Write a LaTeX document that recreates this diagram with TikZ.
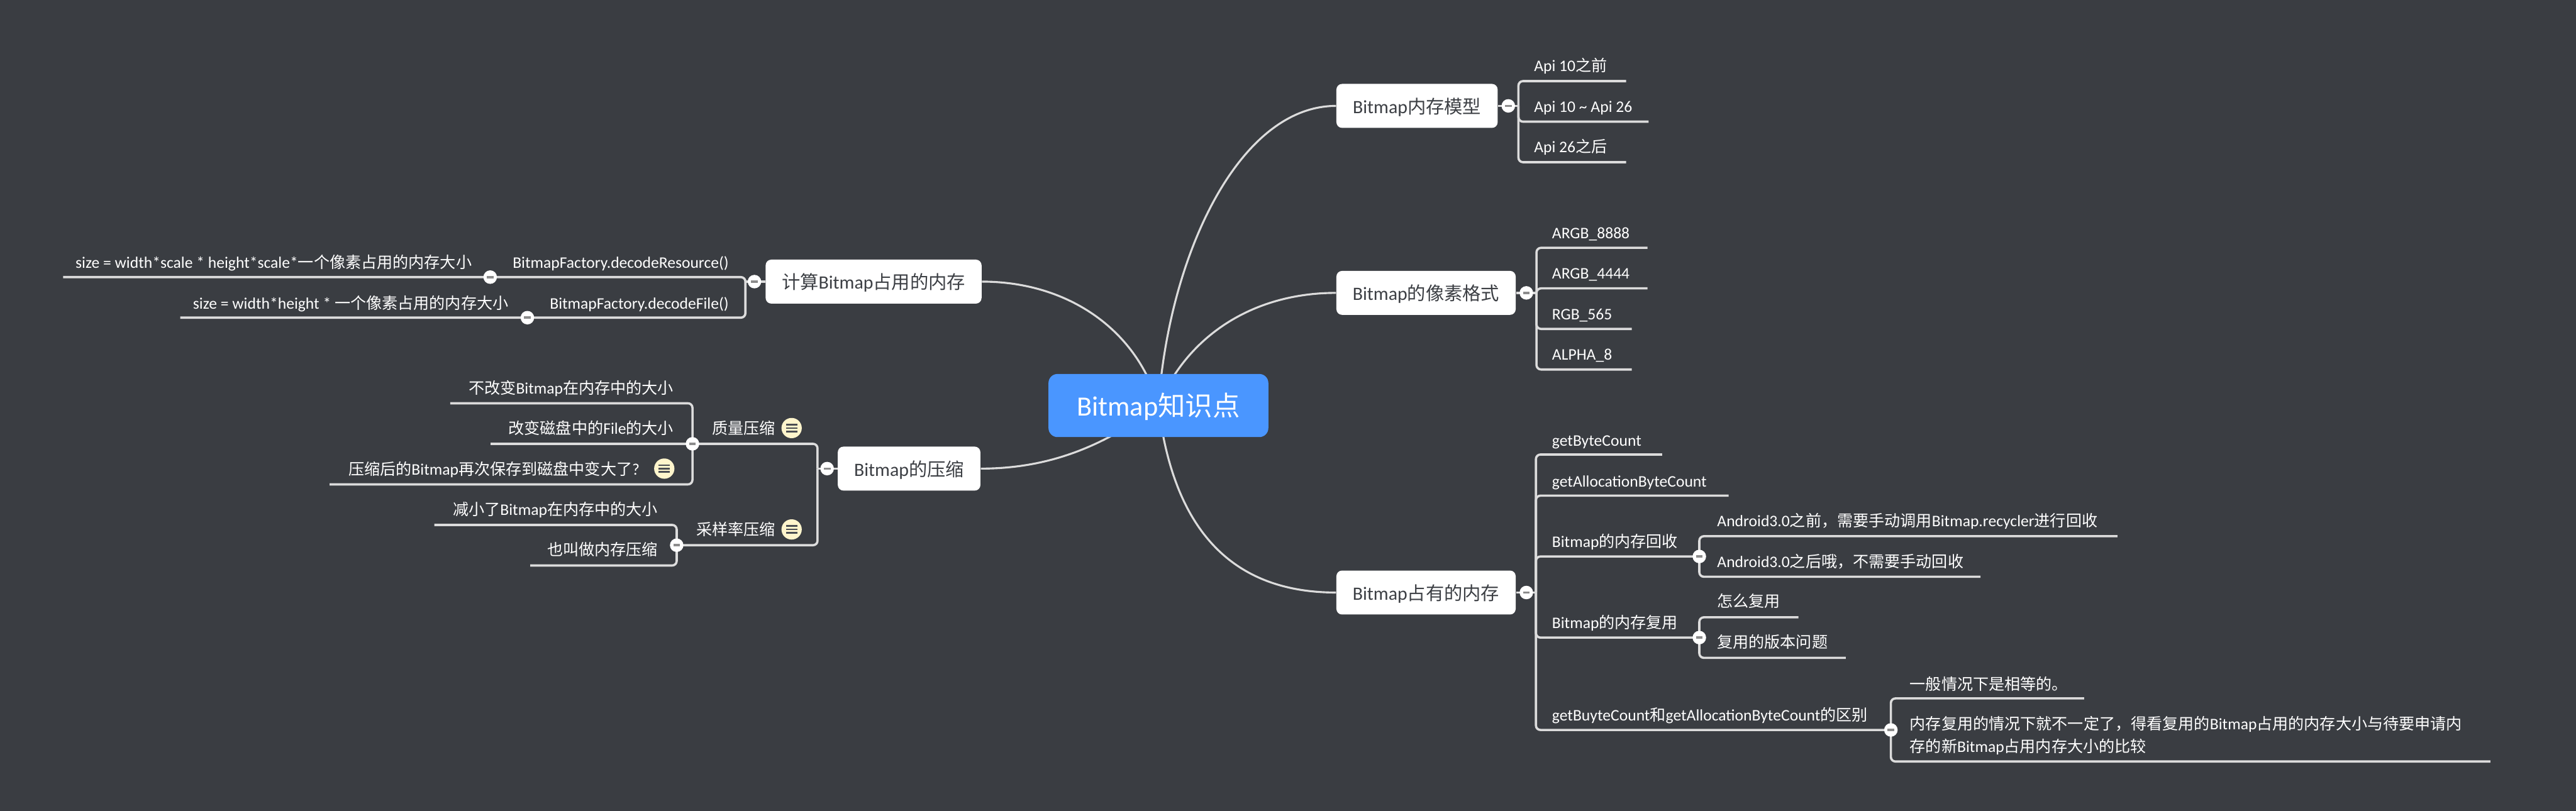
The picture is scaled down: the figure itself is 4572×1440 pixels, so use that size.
\documentclass[tikz,border=0pt]{standalone}
\usepackage{xcolor}
\usepackage{fontspec}
\setmainfont{Carlito}[Scale=1.02]
\newfontfamily\cjkpart{Noto Sans CJK SC}
% han runs change font on their own
\newXeTeXintercharclass\hanclass
\newcount\hanchar
\hanchar="3000
\loop\XeTeXcharclass\hanchar=\hanclass \advance\hanchar by 1 \ifnum\hanchar<"A000 \repeat
\hanchar="FF00
\loop\XeTeXcharclass\hanchar=\hanclass \advance\hanchar by 1 \ifnum\hanchar<"FFF0 \repeat
\XeTeXinterchartoks 0 \hanclass={\cjkpart}
\XeTeXinterchartoks 4095 \hanclass={\cjkpart}
\XeTeXinterchartoks \hanclass 0 ={\normalfont}
\XeTeXinterchartokenstate=1
\usepackage{tikz}
\usetikzlibrary{backgrounds}
\definecolor{mybg}{RGB}{58,61,66}
\definecolor{mywire}{RGB}{220,220,220}
\definecolor{myblue}{RGB}{74,150,255}
\definecolor{mydark}{RGB}{60,63,68}
\definecolor{mybar}{RGB}{140,140,140}
\definecolor{mynote}{RGB}{255,245,204}
\definecolor{mynotebar}{RGB}{74,77,82}
\tikzset{
  rootbox/.style={rectangle, fill=myblue, text=white, minimum width=3.9cm,
    minimum height=1.12cm, rounded corners=0.16cm, text height=13.3pt, text depth=3pt,
    font=\fontsize{13.8}{16}\selectfont},
  mainbox/.style={rectangle, fill=white, text=mydark, minimum height=0.78cm,
    rounded corners=0.1cm, inner sep=0pt, text height=9.5pt, text depth=2pt,
    font=\fontsize{9.3}{11}\selectfont},
  leaf/.style={text=white, inner sep=0pt, text height=7.4pt, text depth=1.6pt,
    font=\fontsize{7.97}{11.4}\selectfont},
  leafblock/.style={text=white, inner sep=0pt, align=left,
    font=\fontsize{7.97}{11.4}\selectfont},
  wire/.style={draw=mywire, line width=0.04cm, rounded corners=0.08cm},
  curvewire/.style={draw=mywire, line width=0.035cm},
  collapse/.style={circle, fill=white, minimum size=0.24cm, inner sep=0pt,
    path picture={\fill[mybar]
      ([xshift=-0.06cm,yshift=-0.02cm]path picture bounding box.center) rectangle
      ([xshift=0.06cm,yshift=0.02cm]path picture bounding box.center);}},
  noteicon/.style={circle, fill=mynote, minimum size=0.36cm, inner sep=0pt,
    path picture={\foreach \barpos in {-0.06,0,0.06}
      \fill[mynotebar]
      ([xshift=-0.1cm,yshift=\barpos cm-0.015cm]path picture bounding box.center) rectangle
      ([xshift=0.1cm,yshift=\barpos cm+0.015cm]path picture bounding box.center);}}
}
\begin{document}
\begin{tikzpicture}[x=0.01cm, y=-0.01cm]
  \useasboundingbox (0,0) rectangle (4572,1439.6);
  % centre and main topics
  \node[rootbox] (root) at (2056,720) {Bitmap知识点};
  \node[mainbox, minimum width=2.86cm] (model) at (2515,188) {Bitmap内存模型};
  \node[mainbox, minimum width=3.18cm] (format) at (2531,520) {Bitmap的像素格式};
  \node[mainbox, minimum width=3.18cm] (occupy) at (2531,1052) {Bitmap占有的内存};
  \node[mainbox, minimum width=3.83cm] (calc) at (1550.5,500) {计算Bitmap占用的内存};
  \node[mainbox, minimum width=2.53cm] (compress) at (1613.5,832) {Bitmap的压缩};

  % memory model
  \node[collapse] (modeldot) at (2677,188) {};
  \coordinate (modelbus) at (2695,188);
  \node[leaf, anchor=west] (api1) at (2722,117) {Api 10之前};
  \node[leaf, anchor=west] (api2) at (2722,189) {Api 10 \textasciitilde{} Api 26};
  \node[leaf, anchor=west] (api3) at (2722,261) {Api 26之后};
  \coordinate (api1end) at (2886,144);
  \coordinate (api2end) at (2926,216);
  \coordinate (api3end) at (2886,288);

  % pixel formats
  \node[collapse] (formatdot) at (2709,520) {};
  \coordinate (formatbus) at (2727,520);
  \node[leaf, anchor=west] (argb1) at (2754,413) {ARGB\_8888};
  \node[leaf, anchor=west] (argb2) at (2754,485) {ARGB\_4444};
  \node[leaf, anchor=west] (rgb) at (2754,557) {RGB\_565};
  \node[leaf, anchor=west] (alpha) at (2754,629) {ALPHA\_8};
  \coordinate (argb1end) at (2924,440);
  \coordinate (argb2end) at (2924,512);
  \coordinate (rgbend) at (2896,584);
  \coordinate (alphaend) at (2896,656);

  % occupied memory
  \node[collapse] (occupydot) at (2709,1052) {};
  \coordinate (occupybus) at (2726,1052);
  \node[leaf, anchor=west] (bytes) at (2754,782) {getByteCount};
  \node[leaf, anchor=west] (alloc) at (2754,854) {getAllocationByteCount};
  \node[leaf, anchor=west] (recycle) at (2754,961) {Bitmap的内存回收};
  \node[leaf, anchor=west] (reuse) at (2754,1105) {Bitmap的内存复用};
  \node[leaf, anchor=west] (differ) at (2754,1269) {getBuyteCount和getAllocationByteCount的区别};
  \coordinate (bytesend) at (2950,807);
  \coordinate (allocend) at (3068,880);
  \node[collapse] (recycledot) at (3016,988) {};
  \node[collapse] (reusedot) at (3016,1132) {};
  \node[collapse] (differdot) at (3356,1296) {};
  \node[leaf, anchor=west] (before) at (3047,925) {Android3.0之前，需要手动调用Bitmap.recycler进行回收};
  \node[leaf, anchor=west] (after) at (3047,997) {Android3.0之后哦，不需要手动回收};
  \node[leaf, anchor=west] (howto) at (3047,1068) {怎么复用};
  \node[leaf, anchor=west] (version) at (3047,1140) {复用的版本问题};
  \node[leaf, anchor=west] (equal) at (3389,1215) {一般情况下是相等的。};
  \node[leafblock, anchor=west] (unequal) at (3389,1306) {内存复用的情况下就不一定了，得看复用的Bitmap占用的内存大小与待要申请内\\存的新Bitmap占用内存大小的比较};
  \coordinate (beforeend) at (3758,952);
  \coordinate (afterend) at (3515,1024);
  \coordinate (howtoend) at (3192,1096);
  \coordinate (versionend) at (3276,1168);
  \coordinate (equalend) at (3699,1240);
  \coordinate (unequalend) at (4420,1352);

  % size calculation
  \node[collapse] (calcdot) at (1339,500) {};
  \coordinate (calcbus) at (1323,500);
  \node[leaf, anchor=east] (resource) at (1294,466) {BitmapFactory.decodeResource()};
  \node[leaf, anchor=east] (file) at (1294,538) {BitmapFactory.decodeFile()};
  \node[collapse] (resourcedot) at (870,492) {};
  \node[collapse] (filedot) at (936,564) {};
  \node[leaf, anchor=east] (sizescaled) at (838,466) {size = width*scale * height*scale*一个像素占用的内存大小};
  \node[leaf, anchor=east] (sizeplain) at (903,538) {size = width*height * 一个像素占用的内存大小};
  \coordinate (sizescaledend) at (112,492);
  \coordinate (sizeplainend) at (320,564);

  % compression
  \node[collapse] (compressdot) at (1468,832) {};
  \coordinate (compressbus) at (1451,832);
  \node[noteicon] (qualitynote) at (1405,760) {};
  \node[noteicon] (samplenote) at (1405,940) {};
  \node[leaf, anchor=east] (quality) at (1377,760) {质量压缩};
  \node[leaf, anchor=east] (sample) at (1377,940) {采样率压缩};
  \node[collapse] (qualitydot) at (1229,788) {};
  \node[collapse] (sampledot) at (1201,968) {};
  \node[leaf, anchor=east] (keep) at (1196,689) {不改变Bitmap在内存中的大小};
  \node[leaf, anchor=east] (disk) at (1196,761) {改变磁盘中的File的大小};
  \node[noteicon] (biggernote) at (1179,832) {};
  \node[leaf, anchor=east] (bigger) at (1136,833) {压缩后的Bitmap再次保存到磁盘中变大了?};
  \node[leaf, anchor=east] (shrink) at (1168,905) {减小了Bitmap在内存中的大小};
  \node[leaf, anchor=east] (alias) at (1168,976) {也叫做内存压缩};
  \coordinate (keepend) at (799,716);
  \coordinate (diskend) at (871,788);
  \coordinate (biggerend) at (585,860);
  \coordinate (shrinkend) at (771,932);
  \coordinate (aliasend) at (941,1004);

  \begin{scope}[on background layer]
    \fill[mybg] (0,0) rectangle (4572,1445);
    % curves out of the centre
    \draw[curvewire] (root.center) .. controls (2075,450) and (2200,188) .. (model.west);
    \draw[curvewire] (root.center) .. controls (2105,600) and (2220,520) .. (format.west);
    \draw[curvewire] (root.center) .. controls (2080,920) and (2170,1052) .. (occupy.west);
    \draw[curvewire] (root.center) .. controls (2020,590) and (1900,500) .. (calc.east);
    \draw[curvewire] (root.center) .. controls (1950,800) and (1850,832) .. (compress.east);
    % right side
    \draw[wire] (model.east) -- (modelbus);
    \draw[wire] (modelbus) |- (api1end);
    \draw[wire] (modelbus) |- (api2end);
    \draw[wire] (modelbus) |- (api3end);
    \draw[wire] (format.east) -- (formatbus);
    \draw[wire] (formatbus) |- (argb1end);
    \draw[wire] (formatbus) |- (argb2end);
    \draw[wire] (formatbus) |- (rgbend);
    \draw[wire] (formatbus) |- (alphaend);
    \draw[wire] (occupy.east) -- (occupybus);
    \draw[wire] (occupybus) |- (bytesend);
    \draw[wire] (occupybus) |- (allocend);
    \draw[wire] (occupybus) |- (recycledot.center);
    \draw[wire] (occupybus) |- (reusedot.center);
    \draw[wire] (occupybus) |- (differdot.center);
    \draw[wire] (recycledot.center) |- (beforeend);
    \draw[wire] (recycledot.center) |- (afterend);
    \draw[wire] (reusedot.center) |- (howtoend);
    \draw[wire] (reusedot.center) |- (versionend);
    \draw[wire] (differdot.center) |- (equalend);
    \draw[wire] (differdot.center) |- (unequalend);
    % left side
    \draw[wire] (calc.west) -- (calcbus);
    \draw[wire] (calcbus) |- (sizescaledend);
    \draw[wire] (calcbus) |- (sizeplainend);
    \draw[wire] (compress.west) -- (compressbus);
    \draw[wire] (compressbus) |- (qualitydot.center);
    \draw[wire] (compressbus) |- (sampledot.center);
    \draw[wire] (qualitydot.center) |- (keepend);
    \draw[wire] (qualitydot.center) -- (diskend);
    \draw[wire] (qualitydot.center) |- (biggerend);
    \draw[wire] (sampledot.center) |- (shrinkend);
    \draw[wire] (sampledot.center) |- (aliasend);
  \end{scope}
\end{tikzpicture}
\end{document}
